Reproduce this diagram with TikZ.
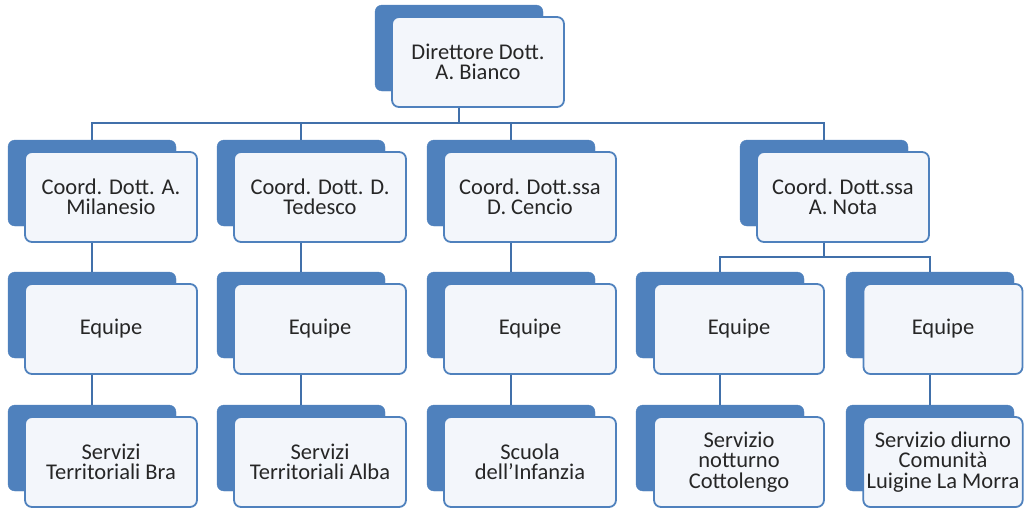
\documentclass[tikz,border=0pt]{standalone}
\usepackage{fontspec}
\setmainfont{Carlito}
\definecolor{orgblue}{RGB}{79,129,189}
\definecolor{linkblue}{RGB}{65,112,170}
\definecolor{cardfill}{RGB}{243,246,251}
\tikzstyle{back} = [rectangle, draw=orgblue, fill=orgblue, rounded corners=7pt,
    minimum width=168pt, minimum height=86pt, inner sep=0pt]
\tikzstyle{card} = [rectangle, draw=orgblue, fill=cardfill, line width=1.8pt,
    rounded corners=7pt, minimum width=172pt, minimum height=90pt, align=center,
    text=black!85, font=\fontsize{22.5}{20.5}\selectfont]

\begin{document}
\begin{tikzpicture}[
x=1pt, y=-1pt,
front/.style = {card, xshift=19pt, yshift=-14pt},
conn/.style = {draw=linkblue, line width=2.6pt}
                    ]
\useasboundingbox (0,0) rectangle (1024,509);
% level 1
\node[back] (dirb) at (459,48) {};
\node[front] (dir) at (dirb) {Direttore Dott.\\A. Bianco};
% level 2
\node[back] (coAb) at (92,183) {};
\node[front] (coA) at (coAb) {Coord. Dott. A.\\Milanesio};
\node[back] (coBb) at (301,183) {};
\node[front] (coB) at (coBb) {Coord. Dott. D.\\Tedesco};
\node[back] (coCb) at (511,183) {};
\node[front] (coC) at (coCb) {Coord. Dott.ssa\\D. Cencio};
\node[back] (coDb) at (824,183) {};
\node[front] (coD) at (coDb) {Coord. Dott.ssa\\A. Nota};
% level 3
\node[back] (eqAb) at (92,315) {};
\node[front] (eqA) at (eqAb) {Equipe};
\node[back] (eqBb) at (301,315) {};
\node[front] (eqB) at (eqBb) {Equipe};
\node[back] (eqCb) at (511,315) {};
\node[front] (eqC) at (eqCb) {Equipe};
\node[back] (eqDb) at (720,315) {};
\node[front, minimum width=170pt] (eqD) at (eqDb) {Equipe};
\node[back] (eqEb) at (930,315) {};
\node[front, minimum width=159pt, xshift=-6pt] (eqE) at (eqEb) {Equipe};
% level 4
\node[back] (svAb) at (92,448) {};
\node[front] (svA) at (svAb) {Servizi\\Territoriali Bra};
\node[back] (svBb) at (301,448) {};
\node[front] (svB) at (svBb) {Servizi\\Territoriali Alba};
\node[back] (svCb) at (511,448) {};
\node[front] (svC) at (svCb) {Scuola\\dell'Infanzia};
\node[back] (svDb) at (720,448) {};
\node[front, minimum width=170pt] (svD) at (svDb) {Servizio\\notturno\\Cottolengo};
\node[back] (svEb) at (930,448) {};
\node[front, minimum width=159pt, xshift=-6pt] (svE) at (svEb) {Servizio diurno\\Comunità\\Luigine La Morra};

% connectors
\coordinate (bus1) at (0,123);
\coordinate (bus2) at (0,257);
\foreach \x in {coA,coB,coC,coD}
  \draw[conn] (dirb |- dir.south) -- (dirb |- bus1) -| (\x b.north);
\foreach \x in {eqD,eqE}
  \draw[conn] (coDb |- coD.south) -- (coDb |- bus2) -| (\x b.north);
\foreach \x/\y in {coA/eqA,coB/eqB,coC/eqC}
  \draw[conn] (\x b |- \x.south) -- (\y b.north);
\foreach \x/\y in {eqA/svA,eqB/svB,eqC/svC,eqD/svD,eqE/svE}
  \draw[conn] (\x b |- \x.south) -- (\y b.north);
\end{tikzpicture}
\end{document}
